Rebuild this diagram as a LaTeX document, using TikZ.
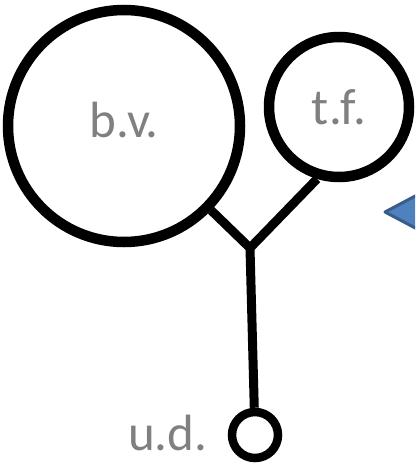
\documentclass[tikz,border=0pt]{standalone}
\usepackage{fontspec}
\setmainfont{Carlito}
\usetikzlibrary{positioning}
\definecolor{textogris}{RGB}{128,128,128}
\definecolor{flechaazul}{RGB}{79,129,189}
\definecolor{bordeazul}{RGB}{56,93,138}

\begin{document}
\begin{tikzpicture}[x=1pt,y=-1pt,
  bola/.style={circle, draw=black, line width=10.5pt, inner sep=0pt,
               font=\fontsize{51}{60}\selectfont, text=textogris},
  rotulo/.style={inner sep=0pt, font=\fontsize{51}{60}\selectfont, text=textogris},
  tallo/.style={line width=9pt, line join=miter}]

\useasboundingbox (0,0) rectangle (415,463);

\node[bola, minimum size=232pt, text depth=12pt] (bv) at (124,126) {b.v.};
\node[bola, minimum size=140pt] (tf) at (339,107) {t.f.};
\node[bola, minimum size=46pt, line width=8.5pt] (ud) at (255,435) {};
\node[rotulo, left=20pt of ud, yshift=2pt] (udtexto) {u.d.};
\coordinate (union) at (250,248);

\draw[tallo] (bv) -- (union) -- (tf.-107);
\draw[tallo] (union) -- (ud);

\begin{scope}
  \clip (0,0) rectangle (415,463);
  \draw[fill=flechaazul, draw=bordeazul, line width=3pt, line join=round]
    (385,212) -- (470,167) -- (470,257) -- cycle;
\end{scope}

\end{tikzpicture}
\end{document}
